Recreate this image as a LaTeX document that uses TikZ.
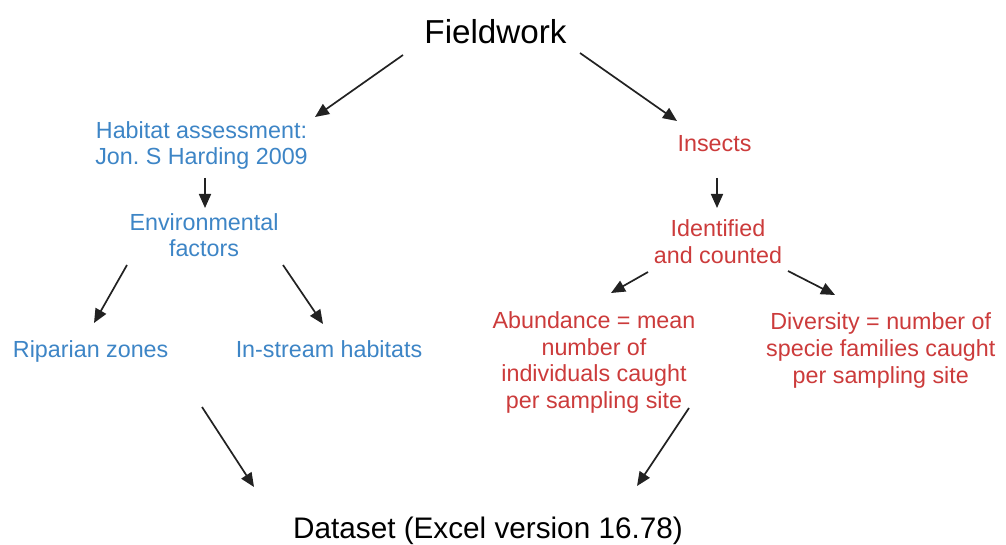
\documentclass[tikz,border=0pt]{standalone}
\usepackage{fontspec}
\setmainfont{Liberation Sans}
\usetikzlibrary{calc,arrows.meta}
\definecolor{bluetxt}{HTML}{3D85C6}
\definecolor{redtxt}{HTML}{CC3B3B}
\definecolor{arrc}{HTML}{222222}
\tikzset{
  fwtxt/.style={inner sep=0pt, anchor=base, font=\fontsize{33.2}{38}\selectfont, text=black},
  datatxt/.style={inner sep=0pt, anchor=base, font=\fontsize{29.7}{34}\selectfont, text=black},
  bluebox/.style={inner sep=0pt, anchor=base, align=center, font=\fontsize{23.3}{26.6}\selectfont, text=bluetxt},
  redbox/.style={inner sep=0pt, anchor=base, align=center, font=\fontsize{23.3}{26.6}\selectfont, text=redtxt},
  arr/.style={draw=arrc, line width=1.7pt, -{Triangle[length=14pt,width=12pt]}}
}
\begin{document}
\frenchspacing
\begin{tikzpicture}[x=1pt,y=-1pt]
\useasboundingbox[fill=white] (0,0) rectangle (1006,545);
\node[fwtxt] (fw) at (495.5,43.3) {Fieldwork};
\node[bluebox] (hab) at (201.5,165) {Habitat assessment:\\Jon. S Harding 2009};
\node[bluebox] (env) at (204,256.7) {Environmental\\factors};
\node[bluebox] (rip) at (90.7,357.3) {Riparian zones};
\node[bluebox] (ins) at (329,357.3) {In-stream habitats};
\node[redbox] (insects) at (714.5,151.7) {Insects};
\node[redbox] (ident) at (718,263.3) {Identified\\and counted};
\node[redbox] (abund) at (594,408.3) {Abundance = mean\\number of\\individuals caught\\per sampling site};
\node[redbox] (div) at (880.8,383) {Diversity = number of\\specie families caught\\per sampling site};
\node[datatxt] (data) at (488,538.3) {Dataset (Excel version 16.78)};
\draw[arr] ($(fw.base)+(-92.5,11.7)$) -- ($(hab.base)+(113.5,-48)$);
\draw[arr] ($(fw.base)+(84.5,9.7)$) -- ($(insects.base)+(-37.5,-30.7)$);
\draw[arr] ($(hab.base)+(3.5,13)$) -- ($(env.base)+(1,-48.7)$);
\draw[arr] ($(env.base)+(-77,8.3)$) -- ($(rip.base)+(3.3,-34.3)$);
\draw[arr] ($(env.base)+(79,8.3)$) -- ($(ins.base)+(-6,-33.3)$);
\draw[arr] ($(insects.base)+(2.5,26.3)$) -- ($(ident.base)+(-1,-55.3)$);
\draw[arr] ($(ident.base)+(-70,8.7)$) -- ($(abund.base)+(17,-115.3)$);
\draw[arr] ($(ident.base)+(70,7.7)$) -- ($(div.base)+(-45.8,-88)$);
\draw[arr] ($(rip.base)+(111.3,49.7)$) -- ($(data.base)+(-234,-51.3)$);
\draw[arr] ($(div.base)+(-191.8,25)$) -- ($(data.base)+(149,-52.3)$);
\end{tikzpicture}
\end{document}
